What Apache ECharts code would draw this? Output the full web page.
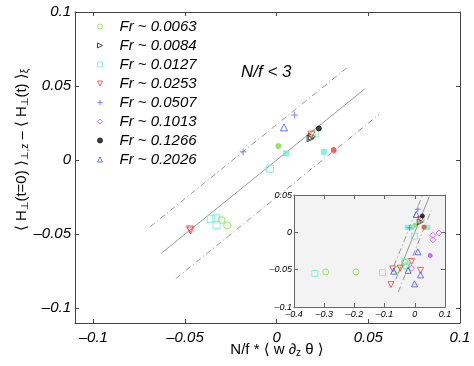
<!DOCTYPE html>
<html>
<head>
<meta charset="utf-8">
<script src="https://cdn.jsdelivr.net/npm/echarts@6/dist/echarts.min.js"></script>
<style>
html,body{margin:0;padding:0;background:#fff;}
#main{width:474px;height:366px;}
</style>
</head>
<body>
<div id="main"></div>
<script>
var frNames = ['Fr ~ 0.0063','Fr ~ 0.0084','Fr ~ 0.0127','Fr ~ 0.0253','Fr ~ 0.0507','Fr ~ 0.1013','Fr ~ 0.1266','Fr ~ 0.2026'];
var mainTicks = [-0.1,-0.05,0,0.05,0.1];
var insetXTicks = [-0.4,-0.3,-0.2,-0.1,0,0.1];
var insetYTicks = [-0.1,-0.05,0,0.05];

// main panel points [x, y]
var m0063 = [[-0.0301,-0.0405],[-0.0270,-0.0441],[0.0195,0.0170]];
var m0063f = [[0.0009,0.0095]];
var m0084 = [[0.0185,0.0146],[0.0192,0.0158]];
var m0127 = [[-0.0359,-0.0397],[-0.0330,-0.0392],[-0.0328,-0.0439],[-0.0036,-0.0059],[0.0210,0.0180]];
var m0127f = [[0.0051,0.0045],[0.0257,0.0056]];
var m0253 = [[-0.0473,-0.0468],[-0.0470,-0.0476],[0.0190,0.0172]];
var m0253f = [[0.0311,0.0068]];
var m0507 = [[-0.0183,0.0056],[0.0098,0.0304]];
var m1013 = [];
var m1266 = [[0.0230,0.0214]];
var m2026 = [[0.0040,0.0221]];

// inset points [x, y]
var i0063 = [[-0.295,-0.053],[-0.195,-0.053],[-0.034,-0.040],[-0.031,-0.045],[-0.058,-0.050],[0.020,0.017]];
var i0063f = [[0.000,0.0094]];
var i0084 = [[0.018,0.014]];
var i0127 = [[-0.331,-0.055],[-0.107,-0.054],[-0.033,-0.039],[-0.026,-0.045],[-0.001,-0.005],[0.021,0.018]];
var i0127f = [[-0.025,0.0067],[-0.011,0.0067],[0.030,0.0067],[0.043,0.0067]];
var i0253 = [[-0.079,-0.070],[-0.073,-0.049],[-0.048,-0.048],[-0.011,-0.039],[0.019,-0.051],[0.019,0.017]];
var i0253f = [[0.031,0.007]];
var i0507 = [[-0.017,0.006],[0.010,0.031]];
var i1013 = [[-0.011,-0.048],[0.060,-0.010],[0.060,-0.004],[0.080,-0.001]];
var i1013f = [[0.051,-0.031]];
var i1266 = [[0.025,0.022]];
var i2026 = [[-0.070,-0.052],[-0.022,-0.051],[0.019,-0.057],[-0.001,-0.069],[0.010,-0.026],[0.005,0.024]];

// y = x and the two offset lines
var lineMid = [[-0.063,-0.063],[0.048,0.048]];
var lineUp = [[-0.069,-0.045],[0.039,0.063]];
var lineLow = [[-0.055,-0.080],[0.056,0.031]];

var colors = ['#7ee03c','#222222','#70f0d0','#ff3a3a','#6a6aff','#c050ff','#111111','#4050ff'];
var triRight = 'path://M0,0L10,5L0,10Z';
var triDown = 'path://M0,0L10,0L5,10Z';
var plus = 'path://M0,5L10,5M5,0L5,10';
var symbols = ['circle',triRight,'rect',triDown,plus,'diamond','circle','triangle'];
var filled = [false,false,false,false,false,false,true,false];
var sizeFix = [0,0,0,0,0,0,-2,0];

var mainSets = [m0063,m0084,m0127,m0253,m0507,m1013,m1266,m2026];
var insetSets = [i0063,i0084,i0127,i0253,i0507,i1013,i1266,i2026];
var mainFilled = {0:m0063f,2:m0127f,3:m0253f};
var insetFilled = {0:i0063f,2:i0127f,3:i0253f,5:i1013f};

function fmt(v){
	if(v < 0){
		return '\u2013' + String(-v);
	}
	return String(v);
}

function axisX(grid, pos, ticks, min, max, label, size, color){
	return {
		type: 'value', gridIndex: grid, position: pos, min: min, max: max,
		axisLine: {show: true, onZero: false, lineStyle: {color: color, width: 1}},
		axisTick: {show: true, inside: true, length: 4, customValues: ticks, lineStyle: {color: color}},
		axisLabel: {show: label, customValues: ticks, formatter: fmt, fontStyle: 'italic', fontFamily: 'Liberation Sans, Arial', fontSize: size, color: '#000', margin: size > 12 ? 7 : 3},
		splitLine: {show: false}
	};
}

var xAxes = [
	axisX(0,'bottom',mainTicks,-0.11,0.1,true,15,'#444'),
	axisX(0,'top',mainTicks,-0.11,0.1,false,15,'#444'),
	axisX(1,'bottom',insetXTicks,-0.4,0.1,true,9,'#666'),
	axisX(1,'top',insetXTicks,-0.4,0.1,false,9,'#666')
];
var yAxes = [
	axisX(0,'left',mainTicks,-0.11,0.1,true,15,'#444'),
	axisX(0,'right',mainTicks,-0.11,0.1,false,15,'#444'),
	axisX(1,'left',insetYTicks,-0.1,0.05,true,9,'#666'),
	axisX(1,'right',insetYTicks,-0.1,0.05,false,9,'#666')
];
yAxes[0].axisLabel.margin = 4;
yAxes[2].axisLabel.margin = 2;

function lineSeries(data, dashed, ax){
	return {
		type: 'line', data: data, xAxisIndex: ax, yAxisIndex: ax,
		showSymbol: false, silent: true, z: 1,
		lineStyle: {color: '#999', width: 1, type: dashed ? [6,3,1,3] : 'solid'}
	};
}

function pointSeries(i, data, ax, solid, size){
	var fill = (solid || filled[i]) ? colors[i] : 'rgba(255,255,255,0)';
	return {
		name: frNames[i], type: 'scatter', data: data,
		xAxisIndex: ax, yAxisIndex: ax,
		symbol: solid ? (i == 2 ? 'rect' : 'circle') : symbols[i],
		symbolSize: solid ? size - 2 : size + sizeFix[i],
		itemStyle: {color: fill, borderColor: colors[i], borderWidth: 1},
		emphasis: {disabled: true}
	};
}

var series = [];
series.push(lineSeries(lineMid,false,0));
series.push(lineSeries(lineUp,true,0));
series.push(lineSeries(lineLow,true,0));
series.push(lineSeries(lineMid,false,2));
series.push(lineSeries(lineUp,true,2));
series.push(lineSeries(lineLow,true,2));
for(var i=0;i<frNames.length;i++){
	series.push(pointSeries(i, mainSets[i], 0, false, 7));
}
for(var i=0;i<frNames.length;i++){
	series.push(pointSeries(i, insetSets[i], 2, false, 6));
	if(mainFilled[i]){
		series.push(pointSeries(i, mainFilled[i], 0, true, 7));
	}
	if(insetFilled[i]){
		series.push(pointSeries(i, insetFilled[i], 2, true, 6));
	}
}

var legendData = [];
for(var i=0;i<frNames.length;i++){
	legendData.push({name: frNames[i], icon: symbols[i]});
}

var richText = {
	n: {fontFamily: 'Liberation Sans, DejaVu Sans', fontSize: 15, lineHeight: 16, verticalAlign: 'top', fill: '#000'},
	s: {fontFamily: 'Liberation Sans, DejaVu Sans', fontSize: 10, lineHeight: 12, verticalAlign: 'bottom', padding: [9,0,0,0], fill: '#000'}
};

var chart = echarts.init(document.getElementById('main'));
chart.setOption({
	backgroundColor: '#fff',
	animation: false,
	grid: [
		{left: 75, top: 12, right: 14, bottom: 43},
		{left: 294, top: 195, width: 151, height: 112, show: true, backgroundColor: '#f3f3f3', borderWidth: 0}
	],
	xAxis: xAxes,
	yAxis: yAxes,
	legend: {
		data: legendData, orient: 'vertical', left: 97, top: 17, padding: 0,
		itemWidth: 5, itemHeight: 5, itemGap: 0,
		itemStyle: {borderWidth: 1},
		textStyle: {fontFamily: 'Liberation Sans, Arial', fontStyle: 'italic', fontSize: 15, color: '#000', lineHeight: 19, padding: [0,0,0,12]}
	},
	graphic: [
		{type: 'text', left: 241, top: 64, style: {text: 'N/f < 3', fontFamily: 'Liberation Sans, Arial', fontStyle: 'italic', fontSize: 17, fill: '#000'}},
		{type: 'text', x: 277, y: 350, style: {
			text: '{n|N/f * \u27e8 w \u2202}{s|z}{n| \u03b8 \u27e9}',
			align: 'center', verticalAlign: 'middle', rich: richText
		}},
		{type: 'text', x: 22, y: 150, rotation: Math.PI / 2, style: {
			text: '{n|\u27e8 H}{s|\u22a5}{n|(t=0) \u27e9}{s|\u22a5,z}{n| \u2013 \u27e8 H}{s|\u22a5}{n|(t) \u27e9}{s|\u03be}',
			align: 'center', verticalAlign: 'middle', rich: richText
		}}
	],
	series: series
});
</script>
</body>
</html>
